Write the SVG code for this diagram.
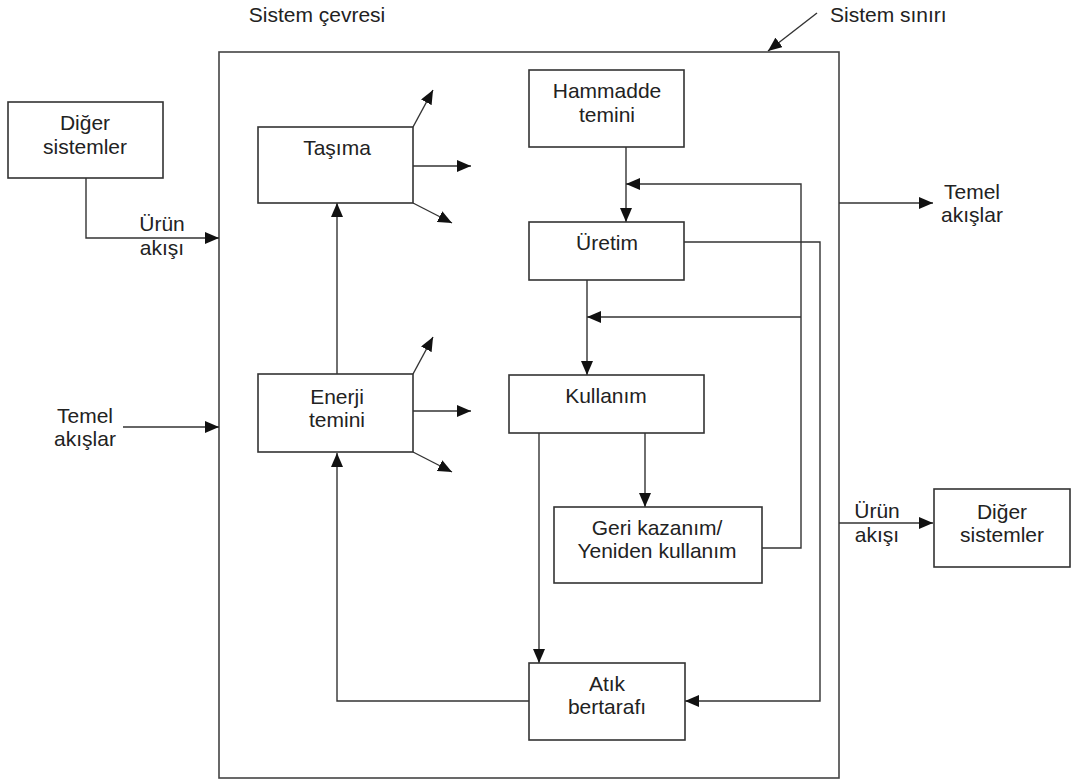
<svg xmlns="http://www.w3.org/2000/svg" width="1076" height="780" viewBox="0 0 1076 780">
<style>
.box{fill:#fff;stroke:#333;stroke-width:1.6}
.bound{fill:none;stroke:#444;stroke-width:1.6}
.ln{fill:none;stroke:#333;stroke-width:1.4}
.arr{marker-end:url(#ah)}
text{font-family:"Liberation Sans",Arial,sans-serif;font-size:21px;fill:#222;text-anchor:middle}
</style>
<defs>
<marker id="ah" viewBox="0 0 14 12" refX="14" refY="6" markerWidth="14" markerHeight="12" markerUnits="userSpaceOnUse" orient="auto">
<path d="M0,0 L14,6 L0,12 Z" fill="#111"/>
</marker>
</defs>
<rect width="1076" height="780" fill="#fff"/>
<g id="system-boundary">
<rect class="bound" x="219" y="52" width="620" height="726"/>
</g>
<g id="labels">
<text x="317" y="22">Sistem çevresi</text>
<text x="830" y="22" style="text-anchor:start">Sistem sınırı</text>
<text x="162" y="231">Ürün</text>
<text x="162" y="255">akışı</text>
<text x="85" y="423">Temel</text>
<text x="85" y="446">akışlar</text>
<text x="972" y="199">Temel</text>
<text x="972" y="222">akışlar</text>
<text x="877" y="518">Ürün</text>
<text x="877" y="542">akışı</text>
</g>
<g id="connectors">
<path class="ln arr" d="M86,178 V238 H219"/>
<path class="ln arr" d="M123,427 H219"/>
<path class="ln arr" d="M839,203 H933"/>
<path class="ln arr" d="M839,523 H933"/>
<path class="ln arr" d="M817,13 L768,51"/>
<path class="ln arr" d="M337,374 V203"/>
<path class="ln arr" d="M413,127 L433,90"/>
<path class="ln arr" d="M413,166 H471"/>
<path class="ln arr" d="M413,203 L452,223"/>
<path class="ln arr" d="M413,374 L433,337"/>
<path class="ln arr" d="M413,411 H471"/>
<path class="ln arr" d="M413,452 L452,472"/>
<path class="ln arr" d="M626,147 V222"/>
<path class="ln arr" d="M762,548 H801 V184 H626"/>
<path class="ln arr" d="M801,317 H587"/>
<path class="ln arr" d="M587,280 V375"/>
<path class="ln arr" d="M684,242 H820 V701 H685"/>
<path class="ln arr" d="M645,433 V507"/>
<path class="ln arr" d="M539,433 V663"/>
<path class="ln arr" d="M529,701 H337 V453"/>
</g>
<g id="diger-sol">
<rect class="box" x="8" y="102" width="155" height="76"/>
<text x="85" y="130">Diğer</text>
<text x="85" y="154">sistemler</text>
</g>
<g id="tasima">
<rect class="box" x="258" y="127" width="155" height="76"/>
<text x="337" y="155">Taşıma</text>
</g>
<g id="enerji">
<rect class="box" x="258" y="374" width="155" height="78"/>
<text x="337" y="404">Enerji</text>
<text x="337" y="427">temini</text>
</g>
<g id="hammadde">
<rect class="box" x="529" y="70" width="155" height="77"/>
<text x="607" y="98">Hammadde</text>
<text x="607" y="122">temini</text>
</g>
<g id="uretim">
<rect class="box" x="529" y="222" width="155" height="58"/>
<text x="607" y="250">Üretim</text>
</g>
<g id="kullanim">
<rect class="box" x="509" y="375" width="195" height="58"/>
<text x="606" y="403">Kullanım</text>
</g>
<g id="geri-kazanim">
<rect class="box" x="554" y="507" width="208" height="76"/>
<text x="657" y="535">Geri kazanım/</text>
<text x="657" y="558">Yeniden kullanım</text>
</g>
<g id="atik">
<rect class="box" x="529" y="663" width="156" height="77"/>
<text x="607" y="691">Atık</text>
<text x="607" y="714">bertarafı</text>
</g>
<g id="diger-sag">
<rect class="box" x="934" y="489" width="136" height="78"/>
<text x="1002" y="519">Diğer</text>
<text x="1002" y="542">sistemler</text>
</g>
</svg>
